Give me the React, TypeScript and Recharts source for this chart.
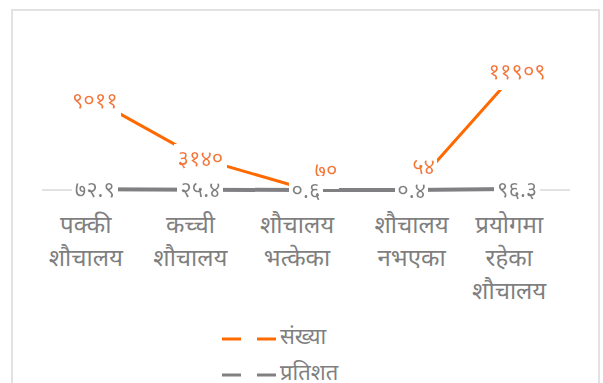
import React from 'react';
import { LineChart, Line, XAxis, YAxis, LabelList, Legend } from 'recharts';

// categories (x axis) and the two series
const categories = ['पक्की शौचालय', 'कच्ची शौचालय', 'शौचालय भत्केका', 'शौचालय नभएका', 'प्रयोगमा रहेका शौचालय'];
const counts = [9011, 3140, 70, 54, 11909];
const percents = [72.9, 25.4, 0.6, 0.4, 96.3];
const seriesNames = ['संख्या', 'प्रतिशत'];

const ORANGE = '#FF6A00';
const ORANGE_TEXT = '#F4782E';
const GREY = '#808083';
const GREY_TEXT = '#7F7F7F';
const FONT = "'Noto Sans Devanagari', 'Noto Sans', sans-serif";

// Excel moved two of the small count labels up and to the right
const countLabelShift: Record<number, [number, number]> = { 2: [20, -19], 3: [12, -23] };
// the wrapped category texts sit a little left of their points in the original
const tickShift = [-9, -10, -9, 0, -8];

const devDigits = '०१२३४५६७८९';
const toDev = (v: number | string) => String(v).replace(/[0-9]/g, (d) => devDigits[Number(d)]);

const data = categories.map((name, i) => ({ name, count: counts[i], percent: percents[i] }));

const CategoryTick = (props: any) => {
  const { x, y, payload, index } = props;
  const words = String(payload.value).split(' ');
  return (
    <g transform={`translate(${x + (tickShift[index] || 0)},${y})`}>
      {words.map((w, i) => (
        <text key={i} x={0} y={27 + i * 33} dy="0.35em" textAnchor="middle" fill={GREY_TEXT} fontSize={24} fontFamily={FONT}>
          {w}
        </text>
      ))}
    </g>
  );
};

const makeLabel = (color: string, shifts: Record<number, [number, number]>) => (props: any) => {
  const { x, y, value, index } = props;
  const [dx, dy] = shifts[index] || [0, 0];
  return (
    <text x={x + dx} y={y + dy} dy="0.35em" textAnchor="middle" fill={color} fontSize={22} fontFamily={FONT} filter="url(#labelBg)">
      {toDev(value)}
    </text>
  );
};

const LegendContent = () => (
  <div style={{ position: 'relative', width: 603, height: 73, fontFamily: FONT }}>
    {seriesNames.map((s, i) => (
      <div key={s} style={{ position: 'absolute', left: 222, top: 14 + i * 36, height: 30, display: 'flex', alignItems: 'center' }}>
        <svg width={56} height={8}>
          <line x1={0} y1={4} x2={19} y2={4} stroke={i === 0 ? ORANGE : GREY} strokeWidth={3} />
          <line x1={35} y1={4} x2={54} y2={4} stroke={i === 0 ? ORANGE : GREY} strokeWidth={3} />
        </svg>
        <span style={{ color: GREY_TEXT, fontSize: 22, marginLeft: 2, lineHeight: '30px' }}>{s}</span>
      </div>
    ))}
  </div>
);

export default function App() {
  return (
    <div style={{ position: 'absolute', left: 0, top: 0, width: 603, height: 383, overflow: 'hidden', background: '#fff' }}>
      <div style={{ position: 'absolute', left: 11, top: 9, width: 585, height: 400, border: '2px solid #e2e2e2' }} />
      <div style={{ position: 'absolute', left: 0, top: 0 }}>
        <LineChart width={603} height={383} data={data} margin={{ top: 50, right: 33, left: 42, bottom: 0 }}>
          <defs>
            <filter id="labelBg" x="-0.06" y="-0.05" width="1.12" height="1.1">
              <feFlood floodColor="#ffffff" result="bg" />
              <feMerge>
                <feMergeNode in="bg" />
                <feMergeNode in="SourceGraphic" />
              </feMerge>
            </filter>
          </defs>
          <XAxis
            dataKey="name"
            height={120}
            padding={{ left: 52.8, right: 52.8 }}
            axisLine={{ stroke: '#d9d9d9', strokeWidth: 1.5 }}
            tickLine={false}
            tick={<CategoryTick />}
            interval={0}
            zIndex={0}
          />
          <YAxis hide domain={[0, 14000]} />
          <Legend verticalAlign="bottom" height={73} wrapperStyle={{ left: 0, width: 603 }} content={<LegendContent />} />
          <Line dataKey="count" name={seriesNames[0]} stroke={ORANGE} strokeWidth={3} dot={false} isAnimationActive={false} zIndex={600}>
            <LabelList dataKey="count" content={makeLabel(ORANGE_TEXT, countLabelShift)} />
          </Line>
          <Line dataKey="percent" name={seriesNames[1]} stroke={GREY} strokeWidth={4} dot={false} isAnimationActive={false} zIndex={610}>
            <LabelList dataKey="percent" content={makeLabel(GREY_TEXT, {})} />
          </Line>
        </LineChart>
      </div>
    </div>
  );
}
